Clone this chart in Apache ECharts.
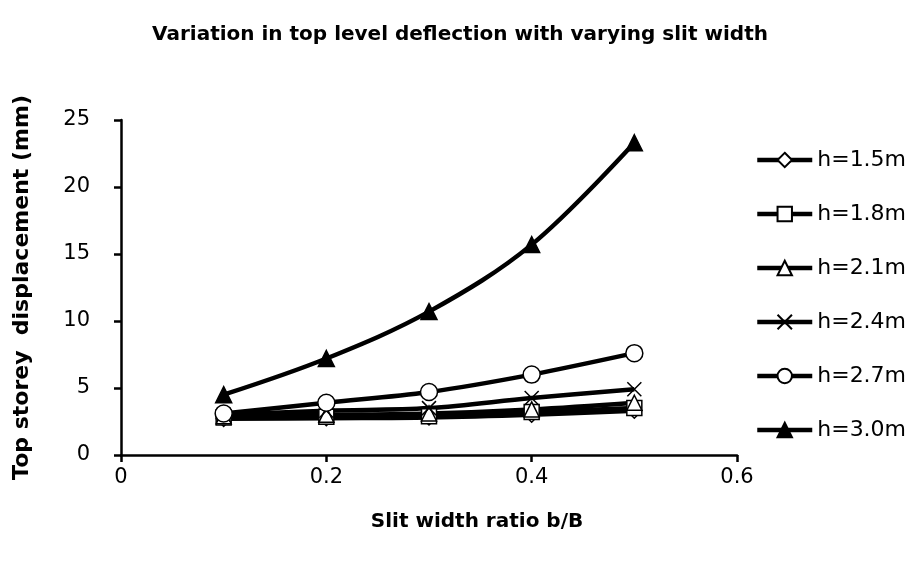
<!DOCTYPE html>
<html>
<head>
<meta charset="utf-8">
<script src="https://cdn.jsdelivr.net/npm/echarts@6/dist/echarts.min.js"></script>
<style>
	html, body { margin: 0; padding: 0; background: #fff; }
	#chart { width: 910px; height: 563px; }
</style>
</head>
<body>
<div id="chart"></div>
<script>
var ratios = [0.1, 0.2, 0.3, 0.4, 0.5];

var h15 = [2.7, 2.75, 2.8, 3.0, 3.3];
var h18 = [2.8, 2.85, 2.9, 3.2, 3.5];
var h21 = [2.9, 3.0, 3.1, 3.4, 3.9];
var h24 = [3.0, 3.3, 3.5, 4.25, 4.9];
var h27 = [3.1, 3.9, 4.7, 6.0, 7.6];
var h30 = [4.5, 7.2, 10.7, 15.7, 23.3];

var names = ["h=1.5m", "h=1.8m", "h=2.1m", "h=2.4m", "h=2.7m", "h=3.0m"];

var font = "'DejaVu Sans', sans-serif";
var cross = "path://M0,0L10,10M10,0L0,10";

function pairs(vals) {
	return ratios.map(function (r, i) {
		return [r, vals[i]];
	});
}

function line(name, vals, symbol, size, fill) {
	return {
		name: name,
		type: "line",
		smooth: 0.35,
		data: pairs(vals),
		symbol: symbol,
		symbolSize: size,
		lineStyle: { color: "#000", width: 4.5 },
		itemStyle: { color: fill, borderColor: "#000", borderWidth: 1.5 },
		emphasis: { disabled: true },
		z: 2,
	};
}

var chart = echarts.init(document.getElementById("chart"));

var option = {
	animation: false,
	backgroundColor: "#fff",
	title: {
		text: "Variation in top level deflection with varying slit width",
		left: 455,
		top: 20,
		textAlign: "center",
		textStyle: { fontFamily: font, fontSize: 20, fontWeight: "bold", color: "#000" },
	},
	legend: {
		orient: "vertical",
		left: 750,
		top: 144,
		itemWidth: 55,
		itemHeight: 18,
		itemGap: 32,
		data: names,
		lineStyle: { width: 4.5, color: "#000" },
		textStyle: { fontFamily: font, fontSize: 22, color: "#000" },
	},
	grid: { left: 121, right: 173, top: 120, bottom: 108 },
	xAxis: {
		type: "value",
		min: 0,
		max: 0.6,
		interval: 0.2,
		name: "Slit width ratio b/B",
		nameLocation: "middle",
		nameGap: 57,
		nameTextStyle: {
			fontFamily: font, fontSize: 20, fontWeight: "bold", color: "#000",
			padding: [0, 0, 0, 96],
		},
		axisLine: { lineStyle: { color: "#000", width: 2.5 } },
		axisTick: { show: true, length: 7, lineStyle: { color: "#000", width: 2.5 } },
		axisLabel: { fontFamily: font, fontSize: 21, color: "#000", margin: 12 },
		splitLine: { show: false },
	},
	yAxis: {
		type: "value",
		min: 0,
		max: 25,
		interval: 5,
		name: "Top storey  displacement (mm)",
		nameLocation: "middle",
		nameGap: 88,
		nameTextStyle: { fontFamily: font, fontSize: 22, fontWeight: "bold", color: "#000" },
		axisLine: { show: true, lineStyle: { color: "#000", width: 2.5 } },
		axisTick: { show: true, length: 7, lineStyle: { color: "#000", width: 2.5 } },
		axisLabel: { fontFamily: font, fontSize: 21, color: "#000", margin: 31 },
		splitLine: { show: false },
	},
	series: [
		line(names[0], h15, "diamond", 15, "#fff"),
		line(names[1], h18, "rect", 15, "#fff"),
		line(names[2], h21, "triangle", 15, "#fff"),
		line(names[3], h24, cross, 14, "#fff"),
		line(names[4], h27, "circle", 17, "#fff"),
		line(names[5], h30, "triangle", 16, "#000"),
	],
};

chart.setOption(option);
</script>
</body>
</html>
